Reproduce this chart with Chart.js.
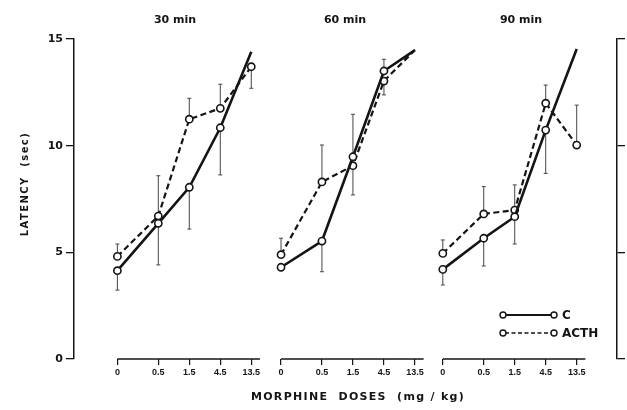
<!DOCTYPE html>
<html>
<head>
<meta charset="utf-8">
<script src="https://cdn.jsdelivr.net/npm/chart.js@4.4.1/dist/chart.umd.min.js"></script>
<style>
  html, body { margin: 0; padding: 0; background: #fff; }
  #wrap { position: relative; width: 627px; height: 410px; }
</style>
</head>
<body>
<div id="wrap"><canvas id="chart" width="627" height="410"></canvas></div>
<script>
const doses = ["0", "0.5", "1.5", "4.5", "13.5"];
const doseValues = [0, 0.5, 1.5, 4.5, 13.5];
const panels = ["30 min", "60 min", "90 min"];
const seriesNames = ["C", "ACTH"];

// mean latency (sec) for each dose
const c30 = [4.14, 6.36, 8.05, 10.84, 14.4];
const acth30 = [4.81, 6.70, 11.24, 11.75, 13.70];
const c60 = [4.30, 5.53, 9.48, 13.50, 14.48];
const acth60 = [4.89, 8.30, 9.06, 13.03, 14.48];
const c90 = [4.20, 5.66, 6.67, 10.73, 14.53];
const acth90 = [4.95, 6.80, 6.98, 11.99, 10.03];

// error bars, signed: drawn up (+) or down (-) from the mean, 0 = none
const cErr30 = [-0.91, -1.95, -1.96, -2.21, 0];
const acthErr30 = [0.58, 1.89, 0.98, 1.13, -1.01];
const cErr60 = [0, -1.44, 1.99, 0.55, 0];
const acthErr60 = [0.77, 1.73, -1.37, -0.65, 0];
const cErr90 = [-0.73, -1.30, -1.28, -2.03, 0];
const acthErr90 = [0.63, 1.28, 1.18, 0.85, 1.87];

const yTicks = [0, 5, 10, 15];

// values at the ceiling are drawn without a circle
const CEIL = 14.3;

// layout of the three panels on the shared x scale
const PANEL_X = [1.40, 6.68, 11.90];
const AXIS_LEN = 4.6;
const TITLE_X = [175, 345, 521];
const doseX = d => d === 0 ? 0 : 1.32 + Math.log(d / 0.5) / Math.log(3);

const means = [[c30, acth30], [c60, acth60], [c90, acth90]];
const errs = [[cErr30, acthErr30], [cErr60, acthErr60], [cErr90, acthErr90]];

const INK = "#141414";
const FONT = "'DejaVu Sans', sans-serif";

const datasets = [];
panels.forEach((p, k) => {
  seriesNames.forEach((name, s) => {
    datasets.push({
      label: name,
      data: doseValues.map((d, i) => ({ x: PANEL_X[k] + doseX(d), y: means[k][s][i], err: errs[k][s][i] })),
      borderColor: INK,
      borderWidth: s === 0 ? 2.6 : 2.2,
      borderDash: s === 0 ? [] : [6, 3.5],
      pointRadius: ctx => (ctx.raw && ctx.raw.y >= CEIL ? 0 : 3.6),
      pointBackgroundColor: "#fff",
      pointBorderColor: INK,
      pointBorderWidth: 1.6,
      tension: 0
    });
  });
});

const panelPlugin = {
  id: "panels",
  beforeDatasetsDraw(chart) {
    const { ctx, scales: { x, y } } = chart;
    ctx.save();
    // error bars
    ctx.strokeStyle = "#444";
    ctx.lineWidth = 1;
    chart.data.datasets.forEach((ds, di) => {
      chart.getDatasetMeta(di).data.forEach((pt, i) => {
        const r = ds.data[i];
        if (!r.err) return;
        const y1 = y.getPixelForValue(r.y + r.err);
        ctx.beginPath();
        ctx.moveTo(pt.x, pt.y);
        ctx.lineTo(pt.x, y1);
        ctx.moveTo(pt.x - 2, y1);
        ctx.lineTo(pt.x + 2, y1);
        ctx.stroke();
      });
    });
    // x axis segments, one per panel
    ctx.strokeStyle = INK;
    ctx.lineWidth = 1.5;
    const yb = y.getPixelForValue(0);
    PANEL_X.forEach(px => {
      ctx.beginPath();
      ctx.moveTo(x.getPixelForValue(px), yb);
      ctx.lineTo(x.getPixelForValue(px + AXIS_LEN), yb);
      ctx.stroke();
    });
    ctx.restore();
  },
  afterDraw(chart) {
    const { ctx } = chart;
    ctx.save();
    ctx.fillStyle = INK;
    ctx.textAlign = "center";
    ctx.textBaseline = "middle";
    ctx.font = "bold 11px " + FONT;
    panels.forEach((p, k) => ctx.fillText(p, TITLE_X[k], 20));

    ctx.letterSpacing = "1.3px";
    ctx.fillText("MORPHINE  DOSES  (mg / kg)", 358, 397);

    ctx.save();
    ctx.translate(25, 184);
    ctx.rotate(-Math.PI / 2);
    ctx.font = "bold 10px " + FONT;
    ctx.letterSpacing = "1.4px";
    ctx.fillText("LATENCY  (sec)", 0, 0);
    ctx.restore();
    ctx.letterSpacing = "0px";

    // legend
    seriesNames.forEach((name, s) => {
      const ly = 315 + s * 18;
      ctx.strokeStyle = INK;
      ctx.lineWidth = s === 0 ? 2 : 1.6;
      ctx.setLineDash(s === 0 ? [] : [4, 2.5]);
      ctx.beginPath();
      ctx.moveTo(505, ly);
      ctx.lineTo(552, ly);
      ctx.stroke();
      ctx.setLineDash([]);
      ctx.lineWidth = 1.4;
      [503, 554].forEach(cx => {
        ctx.beginPath();
        ctx.arc(cx, ly, 3, 0, Math.PI * 2);
        ctx.fillStyle = "#fff";
        ctx.fill();
        ctx.stroke();
      });
      ctx.fillStyle = INK;
      ctx.textAlign = "left";
      ctx.font = "bold 12px " + FONT;
      ctx.fillText(name, 562, ly + 1);
    });
    ctx.restore();
  }
};

new Chart(document.getElementById("chart"), {
  type: "line",
  data: { datasets },
  plugins: [panelPlugin],
  options: {
    responsive: false,
    animation: false,
    layout: { padding: { top: 39, left: 0, right: 0, bottom: 0 } },
    plugins: { legend: { display: false }, tooltip: { enabled: false } },
    scales: {
      x: {
        type: "linear",
        min: 0,
        max: 17.52,
        afterFit: s => { s.height = 51; },
        afterBuildTicks: s => {
          s.ticks = [];
          PANEL_X.forEach(px => doseValues.forEach(d => s.ticks.push({ value: px + doseX(d) })));
        },
        border: { display: false },
        grid: { drawOnChartArea: false, tickLength: 6, color: INK, lineWidth: 1.2 },
        ticks: {
          autoSkip: false,
          maxRotation: 0,
          padding: 2,
          color: INK,
          font: { family: "'Liberation Sans', Arial, sans-serif", size: 9, weight: "bold" },
          callback: (v, i) => doses[i % doses.length]
        }
      },
      y: {
        position: "left",
        min: 0,
        max: 15,
        afterFit: s => { s.width = 74; },
        afterBuildTicks: s => { s.ticks = yTicks.map(v => ({ value: v })); },
        border: { color: INK, width: 1.5 },
        grid: { drawOnChartArea: false, tickLength: 8, color: INK, lineWidth: 1.3 },
        ticks: {
          padding: 3,
          color: INK,
          font: { family: FONT, size: 11, weight: "bold" }
        }
      },
      y2: {
        position: "right",
        min: 0,
        max: 15,
        afterFit: s => { s.width = 10; },
        afterBuildTicks: s => { s.ticks = yTicks.map(v => ({ value: v })); },
        border: { color: INK, width: 1.5 },
        grid: { drawOnChartArea: false, tickLength: 8, color: INK, lineWidth: 1.3 },
        ticks: { display: false }
      }
    }
  }
});
</script>
</body>
</html>
